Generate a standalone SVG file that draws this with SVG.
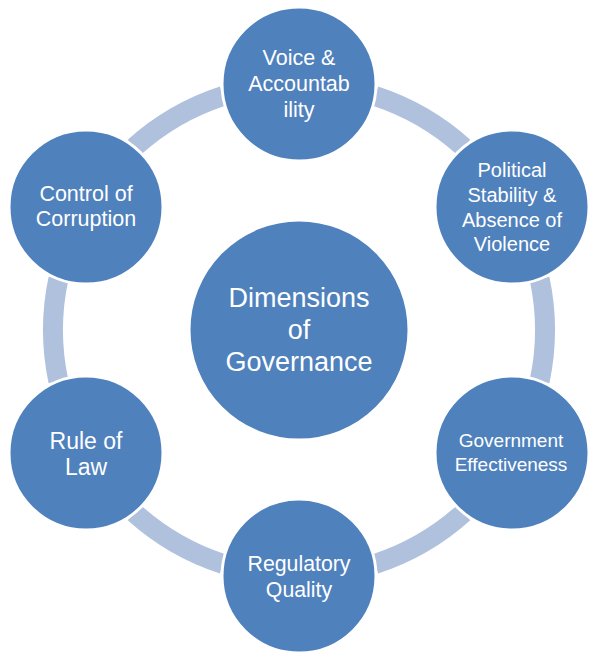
<svg xmlns="http://www.w3.org/2000/svg" width="592" height="652" viewBox="0 0 592 652">
<style>
.band{fill:none;stroke:#b0c1de;stroke-width:20;stroke-linecap:butt}
.node{fill:#4f81bd;stroke:#ffffff;stroke-width:3}
.lbl{fill:#ffffff;font-family:"Liberation Sans",Arial,sans-serif;text-anchor:middle}
</style>
<rect width="592" height="652" fill="#ffffff"/>
<g id="connectors">
<path class="band" d="M375.02,96.04 A246,246 0 0 1 463.61,147.19"/>
<path class="band" d="M539.62,278.85 A246,246 0 0 1 539.62,381.15"/>
<path class="band" d="M463.61,512.81 A246,246 0 0 1 375.02,563.96"/>
<path class="band" d="M222.98,563.96 A246,246 0 0 1 134.39,512.81"/>
<path class="band" d="M58.38,381.15 A246,246 0 0 1 58.38,278.85"/>
<path class="band" d="M134.39,147.19 A246,246 0 0 1 222.98,96.04"/>
</g>
<g id="center">
<circle class="node" cx="299" cy="330" r="110"/>
<text class="lbl" font-size="27"><tspan x="299" y="307">Dimensions</tspan><tspan x="299" y="339">of</tspan><tspan x="299" y="371">Governance</tspan></text>
</g>
<g id="voice">
<circle class="node" cx="299" cy="84" r="77"/>
<text class="lbl" font-size="21.5"><tspan x="299" y="65">Voice &amp;</tspan><tspan x="299" y="91">Accountab</tspan><tspan x="299" y="117">ility</tspan></text>
</g>
<g id="political">
<circle class="node" cx="512" cy="207" r="77"/>
<text class="lbl" font-size="20"><tspan x="512" y="177">Political</tspan><tspan x="512" y="202">Stability &amp;</tspan><tspan x="512" y="227">Absence of</tspan><tspan x="512" y="251">Violence</tspan></text>
</g>
<g id="government">
<circle class="node" cx="512" cy="453" r="77"/>
<text class="lbl" font-size="19"><tspan x="511" y="447">Government</tspan><tspan x="511" y="471">Effectiveness</tspan></text>
</g>
<g id="regulatory">
<circle class="node" cx="299" cy="576" r="77"/>
<text class="lbl" font-size="21.3"><tspan x="299" y="571">Regulatory</tspan><tspan x="299" y="597">Quality</tspan></text>
</g>
<g id="rule">
<circle class="node" cx="86" cy="453" r="77"/>
<text class="lbl" font-size="23"><tspan x="86" y="449">Rule of</tspan><tspan x="86" y="475">Law</tspan></text>
</g>
<g id="control">
<circle class="node" cx="86" cy="207" r="77"/>
<text class="lbl" font-size="21.5"><tspan x="86" y="201">Control of</tspan><tspan x="86" y="226">Corruption</tspan></text>
</g>
</svg>
